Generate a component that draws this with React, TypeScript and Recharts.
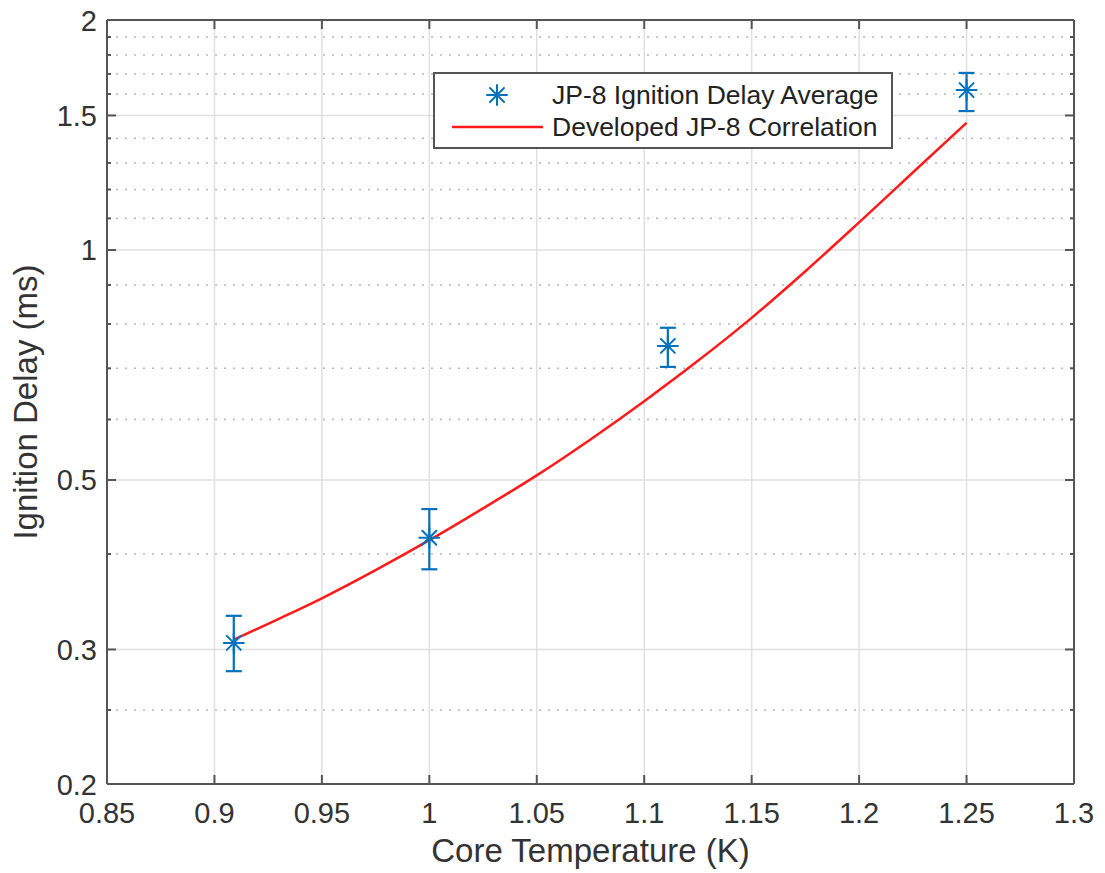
import { ComposedChart, Line, Scatter, ErrorBar, XAxis, YAxis, CartesianGrid, Legend, Label } from "recharts";

const FONT = '"Liberation Sans", Arial, Helvetica, sans-serif';
const AXIS = "#555555";
const TEXT = "#333333";
const BLUE = "#0072BD";
const RED = "#ff1a1a";

// correlation curve
const curveTemps = [0.909, 0.93, 0.95, 0.975, 1.0, 1.025, 1.05, 1.075, 1.1, 1.125, 1.15, 1.175, 1.2, 1.225, 1.25];
const curveDelays = [0.309, 0.329, 0.35, 0.381, 0.417, 0.459, 0.507, 0.565, 0.634, 0.716, 0.815, 0.938, 1.087, 1.263, 1.467];

// averaged measurements with error bars
const avgTemps = [0.909, 1.0, 1.111, 1.25];
const avgDelays = [0.306, 0.42, 0.749, 1.619];
const avgErrLow = [0.025, 0.038, 0.046, 0.099];
const avgErrHigh = [0.026, 0.038, 0.042, 0.086];

const xTicks = [0.85, 0.9, 0.95, 1, 1.05, 1.1, 1.15, 1.2, 1.25, 1.3];
const yTicks = [0.2, 0.3, 0.5, 1, 1.5, 2];
const yMinorTicks = [0.25, 0.4, 0.6, 0.7, 0.8, 0.9, 1.1, 1.2, 1.3, 1.4, 1.6, 1.7, 1.8, 1.9];
const seriesNames = ["JP-8 Ignition Delay Average", "Developed JP-8 Correlation"];

const curveData = curveTemps.map((x, i) => ({ x, y: curveDelays[i] }));
const avgData = avgTemps.map((x, i) => ({ x, y: avgDelays[i], err: [avgErrLow[i], avgErrHigh[i]] }));

const allYTicks = [...yTicks, ...yMinorTicks].sort((a, b) => a - b);
const gridX = xTicks.slice(1, -1);
const gridY = yTicks.slice(1, -1);

const Asterisk = ({ cx, cy, r = 10 }: { cx: number; cy: number; r?: number }) => {
  const d = r * 0.7;
  return (
    <g stroke={BLUE} strokeWidth={2} strokeLinecap="round">
      <line x1={cx - r} y1={cy} x2={cx + r} y2={cy} />
      <line x1={cx} y1={cy - r} x2={cx} y2={cy + r} />
      <line x1={cx - d} y1={cy - d} x2={cx + d} y2={cy + d} />
      <line x1={cx - d} y1={cy + d} x2={cx + d} y2={cy - d} />
    </g>
  );
};

const LeftTick = (props: any) => {
  const { x, y, payload } = props;
  const major = yTicks.includes(payload.value);
  return (
    <g>
      <line x1={x} y1={y} x2={x + (major ? 9 : 4)} y2={y} stroke={AXIS} strokeWidth={2} />
      {major && (
        <text x={x - 10} y={y + 10.5} textAnchor="end" fontSize={29} fill={TEXT} fontFamily={FONT}>
          {String(payload.value)}
        </text>
      )}
    </g>
  );
};

const RightTick = (props: any) => {
  const { x, y, payload } = props;
  const major = yTicks.includes(payload.value);
  return <line x1={x} y1={y} x2={x - (major ? 9 : 4)} y2={y} stroke={AXIS} strokeWidth={2} />;
};

const BottomTick = (props: any) => {
  const { x, y, payload } = props;
  return (
    <g>
      <line x1={x} y1={y} x2={x} y2={y - 9} stroke={AXIS} strokeWidth={2} />
      <text x={x} y={y + 39} textAnchor="middle" fontSize={29} fill={TEXT} fontFamily={FONT}>
        {String(payload.value)}
      </text>
    </g>
  );
};

const TopTick = (props: any) => {
  const { x, y } = props;
  return <line x1={x} y1={y} x2={x} y2={y + 9} stroke={AXIS} strokeWidth={2} />;
};

const LegendBox = () => (
  <div
    style={{
      width: 460,
      height: 77,
      boxSizing: "border-box",
      border: `2px solid ${AXIS}`,
      background: "#fff",
      paddingTop: 5,
      fontFamily: FONT,
      fontSize: 26.5,
      color: "#222",
    }}
  >
    <div style={{ display: "flex", alignItems: "center", height: 32 }}>
      <svg width={117} height={32}>
        <Asterisk cx={62} cy={16} r={10} />
      </svg>
      <span style={{ lineHeight: "32px", whiteSpace: "nowrap" }}>{seriesNames[0]}</span>
    </div>
    <div style={{ display: "flex", alignItems: "center", height: 32 }}>
      <svg width={117} height={32}>
        <line x1={17} y1={16} x2={108} y2={16} stroke={RED} strokeWidth={2.5} />
      </svg>
      <span style={{ lineHeight: "32px", whiteSpace: "nowrap" }}>{seriesNames[1]}</span>
    </div>
  </div>
);

export default function App() {
  return (
    <div style={{ position: "absolute", left: 0, top: 0, width: 1105, height: 873, background: "#fff" }}>
      <ComposedChart width={1105} height={873} data={curveData} margin={{ top: 19, right: 21, left: 8, bottom: 0 }}>
        <CartesianGrid horizontalValues={gridY} verticalValues={gridX} stroke="#e0e0e0" strokeWidth={1.5} />
        <CartesianGrid horizontalValues={yMinorTicks} vertical={false} stroke="#b8b8b8" strokeWidth={1.5} strokeDasharray="2 7" />
        <XAxis
          dataKey="x"
          type="number"
          domain={[0.85, 1.3]}
          ticks={xTicks}
          interval={0}
          height={89}
          tickSize={0}
          tickMargin={0}
          tick={<BottomTick />}
          axisLine={{ stroke: AXIS, strokeWidth: 2 }}
        >
          <Label value="Core Temperature (K)" position="insideBottom" offset={11} style={{ fontSize: 33, fill: TEXT, fontFamily: FONT }} />
        </XAxis>
        <XAxis
          xAxisId="top"
          orientation="top"
          dataKey="x"
          type="number"
          domain={[0.85, 1.3]}
          ticks={xTicks}
          interval={0}
          height={1}
          tickSize={0}
          tickMargin={0}
          tick={<TopTick />}
          axisLine={{ stroke: AXIS, strokeWidth: 2 }}
        />
        <YAxis
          type="number"
          scale="log"
          domain={[0.2, 2]}
          allowDataOverflow
          ticks={allYTicks}
          interval={0}
          width={99}
          tickSize={0}
          tickMargin={0}
          tick={<LeftTick />}
          axisLine={{ stroke: AXIS, strokeWidth: 2 }}
        >
          <Label
            value="Ignition Delay (ms)"
            angle={-90}
            position="insideLeft"
            offset={17}
            style={{ fontSize: 33, fill: TEXT, fontFamily: FONT, textAnchor: "middle" }}
          />
        </YAxis>
        <YAxis
          yAxisId="right"
          orientation="right"
          type="number"
          scale="log"
          domain={[0.2, 2]}
          allowDataOverflow
          ticks={allYTicks}
          interval={0}
          width={10}
          tickSize={0}
          tickMargin={0}
          tick={<RightTick />}
          axisLine={{ stroke: AXIS, strokeWidth: 2 }}
        />
        <Legend
          layout="horizontal"
          verticalAlign="middle"
          align="center"
          wrapperStyle={{ left: 433, top: 72, width: 460, height: 77 }}
          content={<LegendBox />}
        />
        <Line
          dataKey="y"
          type="monotone"
          stroke={RED}
          strokeWidth={2.5}
          dot={false}
          activeDot={false}
          isAnimationActive={false}
          name={seriesNames[1]}
        />
        <Scatter
          data={avgData}
          dataKey="y"
          fill={BLUE}
          isAnimationActive={false}
          name={seriesNames[0]}
          shape={(p: any) => <Asterisk cx={p.cx} cy={p.cy} r={10} />}
        >
          <ErrorBar dataKey="err" direction="y" width={8} stroke={BLUE} strokeWidth={2.2} isAnimationActive={false} />
        </Scatter>
      </ComposedChart>
    </div>
  );
}
